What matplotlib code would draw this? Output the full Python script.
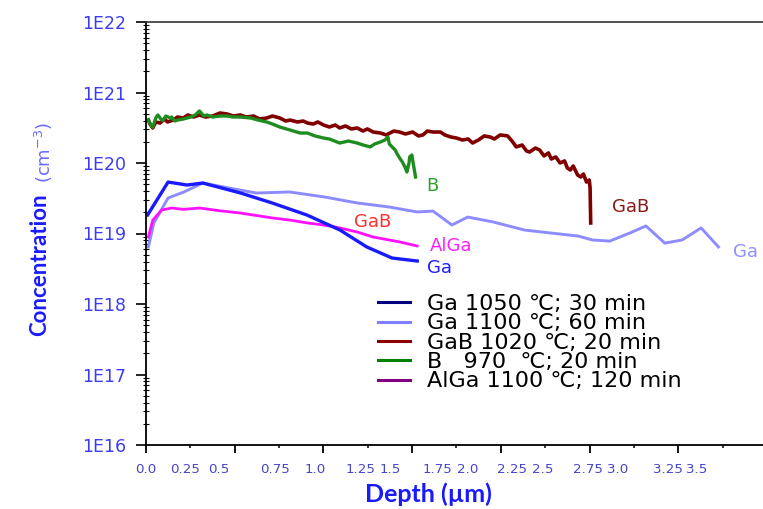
import numpy as np
import matplotlib
matplotlib.use("Agg")
import matplotlib.pyplot as plt
from matplotlib.lines import Line2D

# profundidade em um, concentracao em cm-3

# Ga 1050 C 30 min
ga1050_x = [0.01, 0.14, 0.26, 0.36, 0.60, 0.80, 1.02, 1.23, 1.40, 1.56, 1.72]
ga1050_y = [1.83e19, 5.37e19, 4.87e19, 5.2e19, 3.75e19, 2.71e19, 1.83e19, 1.12e19, 6.44e18, 4.49e18, 4.07e18]

# Ga 1100 C 60 min
ga1100_x = [0.015, 0.05, 0.14, 0.24, 0.36, 0.49, 0.70, 0.91, 1.13, 1.34, 1.54, 1.72, 1.82, 1.94,
            2.04, 2.20, 2.40, 2.56, 2.74, 2.83, 2.94, 3.07, 3.17, 3.29, 3.40, 3.52, 3.63]
ga1100_y = [6.44e18, 1.41e19, 3.19e19, 3.88e19, 5.2e19, 4.57e19, 3.75e19, 3.88e19, 3.3e19, 2.71e19,
            2.38e19, 2.02e19, 2.08e19, 1.32e19, 1.71e19, 1.46e19, 1.12e19, 1.02e19, 9.2e18, 8.1e18,
            7.8e18, 1.02e19, 1.28e19, 7.3e18, 8.1e18, 1.2e19, 6.44e18]

# GaB 1020 C 20 min (valores em 1e20)
gab_x = [0.015, 0.025, 0.043, 0.062, 0.089, 0.117, 0.136, 0.173, 0.200, 0.237, 0.265, 0.302, 0.339,
         0.376, 0.423, 0.469, 0.515, 0.552, 0.599, 0.636, 0.682, 0.719, 0.765, 0.802, 0.848, 0.886,
         0.913, 0.960, 0.997, 1.024, 1.061, 1.089, 1.126, 1.163, 1.200, 1.228, 1.265, 1.302, 1.339,
         1.376, 1.404, 1.441, 1.487, 1.524, 1.571, 1.608, 1.645, 1.691, 1.728, 1.756, 1.784, 1.821,
         1.867, 1.895, 1.932, 1.969, 2.006, 2.043, 2.071, 2.108, 2.145, 2.182, 2.209, 2.246, 2.293,
         2.321, 2.348, 2.385, 2.413, 2.432, 2.469, 2.496, 2.524, 2.552, 2.570, 2.598, 2.626, 2.654,
         2.672, 2.691, 2.709, 2.737, 2.756, 2.774, 2.793, 2.811, 2.816, 2.820]
gab_y = [4.07, 3.57, 3.14, 3.82, 3.69, 4.21, 3.82, 4.07, 4.49, 4.35, 4.80, 4.49, 4.80, 4.49, 4.64,
         5.12, 4.95, 4.64, 4.80, 4.49, 4.64, 4.21, 4.35, 4.64, 4.35, 3.94, 4.07, 3.82, 3.94, 3.69,
         3.57, 3.82, 3.46, 3.24, 3.46, 3.14, 3.35, 3.04, 3.14, 2.84, 3.04, 2.75, 2.66, 2.50, 2.84,
         2.75, 2.58, 2.75, 2.42, 2.50, 2.84, 2.75, 2.75, 2.50, 2.34, 2.26, 2.12, 2.19, 1.92, 2.12,
         2.42, 2.34, 2.19, 2.50, 2.42, 2.05, 1.69, 1.80, 1.48, 1.43, 1.63, 1.53, 1.26, 1.39, 1.14,
         1.22, 1.00, 1.07, 0.849, 0.796, 0.907, 0.676, 0.633, 0.698, 0.537, 0.574, 0.442, 0.141]

# B 970 C 20 min (valores em 1e20)
b_x = [0.015, 0.034, 0.043, 0.062, 0.075, 0.099, 0.108, 0.126, 0.154, 0.163, 0.182, 0.200, 0.237,
       0.284, 0.312, 0.339, 0.367, 0.386, 0.423, 0.469, 0.515, 0.552, 0.599, 0.663, 0.710, 0.765,
       0.802, 0.848, 0.913, 0.978, 1.024, 1.071, 1.126, 1.163, 1.228, 1.284, 1.339, 1.376, 1.422,
       1.450, 1.487, 1.515, 1.534, 1.543, 1.561, 1.580, 1.589, 1.608, 1.626, 1.645, 1.654, 1.668,
       1.672, 1.686, 1.691, 1.709]
b_y = [4.07, 3.35, 3.24, 4.35, 4.80, 4.07, 4.07, 4.64, 4.35, 4.49, 3.94, 4.07, 4.21, 4.49, 4.80,
       5.47, 4.64, 4.80, 4.49, 4.64, 4.64, 4.49, 4.49, 4.35, 4.07, 3.82, 3.57, 3.24, 2.94, 2.66,
       2.66, 2.42, 2.26, 2.19, 1.92, 2.05, 1.92, 1.80, 1.69, 1.86, 1.99, 2.12, 2.34, 1.86, 1.69,
       1.53, 1.39, 1.18, 1.03, 0.849, 0.745, 1.00, 1.22, 1.30, 1.10, 0.633]

# AlGa 1100 C 120 min
alga_x = [0.015, 0.043, 0.099, 0.163, 0.237, 0.339, 0.469, 0.599, 0.700, 0.802, 0.913, 1.024,
          1.126, 1.228, 1.339, 1.441, 1.608, 1.719]
alga_y = [8.9e18, 1.55e19, 2.15e19, 2.3e19, 2.2e19, 2.3e19, 2.1e19, 1.95e19, 1.8e19, 1.66e19, 1.55e19,
          1.41e19, 1.32e19, 1.2e19, 1.05e19, 8.9e18, 7.6e18, 6.65e18]

legenda = ["Ga 1050 \u2103; 30 min", "Ga 1100 \u2103; 60 min", "GaB 1020 \u2103; 20 min",
           "B   970  \u2103; 20 min", "AlGa 1100 \u2103; 120 min"]
cores_legenda = ["#000080", "#8080ff", "#8b0000", "#008000", "#800080"]

y_ticks = [1e16, 1e17, 1e18, 1e19, 1e20, 1e21, 1e22]
y_labels = ["1E16", "1E17", "1E18", "1E19", "1E20", "1E21", "1E22"]
x_labels = ["0.0", "0.25", "0.5", "0.75", "1.0", "1.25", "1.5", "1.75", "2.0", "2.25", "2.5",
            "2.75", "3.0", "3.25", "3.5"]
x_label_pos = [0.0, 0.247, 0.463, 0.818, 1.072, 1.363, 1.547, 1.845, 2.042, 2.321, 2.517,
               2.803, 2.993, 3.31, 3.494]

passo = 0.5625  # marcas do eixo x

fig = plt.figure(figsize=(7.63, 5.09), dpi=100)
ax = fig.add_axes([146 / 763, 64 / 509, 1 - 146 / 763, 423 / 509])

ax.plot(ga1100_x, ga1100_y, color="#8c8cff", lw=2.1)
ax.plot(gab_x, np.array(gab_y) * 1e20, color="#800000", lw=2.6)
ax.plot(b_x, np.array(b_y) * 1e20, color="#1f8c1f", lw=2.4)
ax.plot(alga_x, alga_y, color="#ff10ff", lw=2.0)
ax.plot(ga1050_x, ga1050_y, color="#1a1aff", lw=2.4)

ax.set_yscale("log")
ax.set_ylim(1e16, 1e22)
ax.set_xlim(0, 617 / 157.7)

ax.set_yticks(y_ticks, y_labels)
ax.yaxis.set_minor_locator(matplotlib.ticker.LogLocator(base=10, subs=np.arange(2, 10)))
ax.yaxis.set_minor_formatter(matplotlib.ticker.NullFormatter())
ax.tick_params(axis="y", which="major", length=7, width=1.2, pad=7, labelsize=12.5, labelcolor="#3c3cf5")
ax.tick_params(axis="y", which="minor", direction="inout", length=4, width=0.8)

ax.set_xticks(np.arange(0, 3.9, passo))
ax.set_xticks(np.arange(passo / 2, 3.9, passo), minor=True)
ax.tick_params(axis="x", which="major", length=5.5, width=1.3, labelbottom=False)
ax.tick_params(axis="x", which="minor", length=2.5, width=1.1)

sec = ax.secondary_xaxis("bottom")
sec.set_xticks(x_label_pos, x_labels)
sec.tick_params(length=0, pad=13, labelsize=9.6, labelcolor="#4545cc")
sec.spines["bottom"].set_visible(False)

ax.spines["right"].set_visible(False)
ax.spines["left"].set_linewidth(1.3)
ax.spines["bottom"].set_linewidth(1.3)
ax.spines["top"].set_linewidth(1.2)
ax.spines["top"].set_color("#333333")

# rotulos das curvas
ax.text(1.814, 4.7e19, "B", color="#2f9f2f", fontsize=13, ha="center", va="center")
ax.text(1.44, 1.46e19, "GaB", color="#ff3030", fontsize=13, ha="center", va="center")
ax.text(1.80, 6.65e18, "AlGa", color="#ff20ff", fontsize=13, ha="left", va="center")
ax.text(1.78, 3.24e18, "Ga", color="#2020ff", fontsize=13, ha="left", va="center")
ax.text(2.955, 2.38e19, "GaB", color="#8b1a1a", fontsize=13, ha="left", va="center")
ax.text(3.72, 5.47e18, "Ga", color="#9090ff", fontsize=13, ha="left", va="center", clip_on=False)

handles = [Line2D([], [], color=c, lw=2.2) for c in cores_legenda]
ax.legend(handles, legenda, loc="upper left", bbox_to_anchor=(378 / 763, 1 - 294 / 509),
          bbox_transform=fig.transFigure, frameon=False, fontsize=16, borderpad=0,
          borderaxespad=0, handlelength=1.45, handletextpad=0.75, labelspacing=-0.03)

fig.text(40 / 763, 1 - 265 / 509, "Concentration", rotation=90, ha="center", va="center",
         fontsize=16, fontweight="bold", family="Lato", color="#1a1aff")
fig.text(44 / 763, 1 - 152 / 509, "(cm$^{-3}$)", rotation=90, ha="center", va="center",
         fontsize=13, color="#6a6aff")
fig.text(428 / 763, 1 - 494 / 509, "Depth (\u00b5m)", ha="center", va="center",
         fontsize=18, fontweight="bold", family="Lato", color="#1a1aff")

fig.savefig("out.png", dpi=100)
